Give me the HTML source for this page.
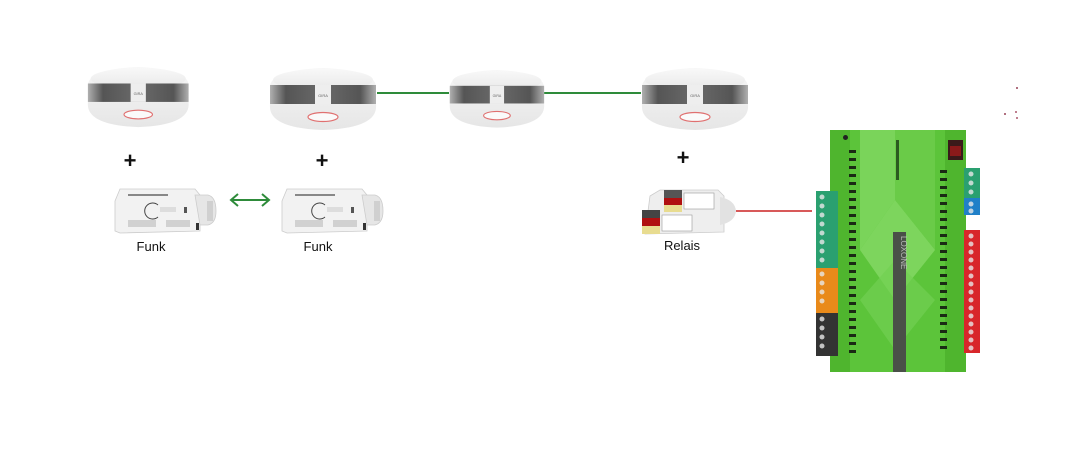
<!DOCTYPE html>
<html><head><meta charset="utf-8"><style>
html,body{margin:0;padding:0;background:#fff;}
body{width:1083px;height:476px;overflow:hidden;position:relative;font-family:"Liberation Sans","DejaVu Sans",sans-serif;}
svg{position:absolute;left:0;top:0}
</style></head><body>
<svg width="1083" height="476" viewBox="0 0 1083 476" xmlns="http://www.w3.org/2000/svg">
<defs>
 <linearGradient id="band" x1="0" x2="1" y1="0" y2="0">
  <stop offset="0" stop-color="#b0b0b0"/><stop offset="0.15" stop-color="#555"/><stop offset="0.5" stop-color="#6a6a6a"/><stop offset="0.85" stop-color="#555"/><stop offset="1" stop-color="#b0b0b0"/>
 </linearGradient>
 <linearGradient id="wt" x1="0" x2="0" y1="0" y2="1">
  <stop offset="0" stop-color="#f8f8f8"/><stop offset="1" stop-color="#e8e8e8"/>
 </linearGradient>
 <linearGradient id="wb" x1="0" x2="0" y1="0" y2="1">
  <stop offset="0" stop-color="#f7f7f7"/><stop offset="1" stop-color="#e6e6e6"/>
 </linearGradient>
 <g id="det">
  <path d="M2,18 Q4,2 55,0 Q106,2 108,18 L108,37 Q110,60 55,62 Q0,60 2,37 Z" fill="url(#wb)"/>
  <ellipse cx="55" cy="12" rx="50" ry="11" fill="url(#wt)"/>
  <rect x="2" y="17" width="106" height="19" fill="url(#band)"/>
  <rect x="47" y="17" width="16" height="19" fill="#eee"/>
  <text x="55" y="29" font-size="4" fill="#666" text-anchor="middle">GIRA</text>
  <ellipse cx="55" cy="49" rx="15" ry="4.5" fill="#fafafa" stroke="#e07070" stroke-width="1.2"/>
 </g>
 <g id="funk">
  <path d="M5,14 L10,2 L85,2 L90,8 L90,44 L10,46 L5,44 Z" fill="#f2f2f2" stroke="#ccc" stroke-width="0.8"/>
  <path d="M85,8 L98,8 Q106,10 106,24 Q106,36 98,38 L90,38 Z" fill="#e6e6e6" stroke="#ccc" stroke-width="0.8"/>
  <rect x="97" y="14" width="6" height="20" fill="#d0d0d0"/>
  <rect x="18" y="7" width="40" height="2" fill="#888"/>
  <path d="M48,18 A8,8 0 1,0 48,30" fill="none" stroke="#444" stroke-width="1"/>
  <rect x="50" y="20" width="16" height="5" fill="#ddd"/>
  <rect x="74" y="20" width="3" height="6" fill="#555"/>
  <rect x="18" y="33" width="28" height="7" fill="#bbb" opacity="0.6"/>
  <rect x="56" y="33" width="24" height="7" fill="#bbb" opacity="0.6"/>
  <rect x="86" y="36" width="3" height="7" fill="#333"/>
 </g>
</defs>

<line x1="377" y1="93" x2="449" y2="93" stroke="#2e8b3a" stroke-width="2"/>
<line x1="544" y1="93" x2="641" y2="93" stroke="#2e8b3a" stroke-width="2"/>

<use href="#det" transform="translate(86,67) scale(0.95,0.97)"/>
<use href="#det" transform="translate(268,68) scale(1,1)"/>
<use href="#det" transform="translate(448,70) scale(0.89,0.93)"/>
<use href="#det" transform="translate(640,68) scale(1,1)"/>

<text x="130" y="168" font-size="22" font-weight="bold" text-anchor="middle" fill="#111">+</text>
<text x="322" y="168" font-size="22" font-weight="bold" text-anchor="middle" fill="#111">+</text>
<text x="683" y="165" font-size="22" font-weight="bold" text-anchor="middle" fill="#111">+</text>

<use href="#funk" transform="translate(110,187)"/>
<use href="#funk" transform="translate(277,187)"/>

<line x1="232" y1="200" x2="268" y2="200" stroke="#2e8b3a" stroke-width="2"/>
<path d="M238,194 L231,200 L238,206" fill="none" stroke="#2e8b3a" stroke-width="2"/>
<path d="M262,194 L269,200 L262,206" fill="none" stroke="#2e8b3a" stroke-width="2"/>

<path d="M650,196 L660,190 L718,190 L724,196 L724,232 L645,234 Z" fill="#eee" stroke="#ccc" stroke-width="0.8"/>
<path d="M720,197 Q735,200 736,211 Q735,222 720,225 Z" fill="#e2e2e2"/>
<rect x="664" y="190" width="18" height="22" fill="#555"/>
<rect x="664" y="198" width="18" height="7" fill="#b01010"/>
<rect x="664" y="205" width="18" height="7" fill="#e8dc90"/>
<rect x="642" y="210" width="18" height="24" fill="#444"/>
<rect x="642" y="218" width="18" height="8" fill="#b01010"/>
<rect x="642" y="226" width="18" height="8" fill="#e8dc90"/>
<rect x="684" y="193" width="30" height="16" fill="#fff" stroke="#999" stroke-width="0.6"/>
<rect x="662" y="215" width="30" height="16" fill="#fff" stroke="#999" stroke-width="0.6"/>
<line x1="736" y1="211" x2="812" y2="211" stroke="#cc2222" stroke-width="1.5"/>

<text x="151" y="251" font-size="13" text-anchor="middle" fill="#111">Funk</text>
<text x="318" y="251" font-size="13" text-anchor="middle" fill="#111">Funk</text>
<text x="682" y="250" font-size="13" text-anchor="middle" fill="#111">Relais</text>

<rect x="830" y="130" width="136" height="242" fill="#5cc43a"/>
<rect x="830" y="130" width="20" height="242" fill="#4fb52e"/>
<rect x="945" y="130" width="21" height="242" fill="#4fb52e"/>
<polygon points="860,130 895,130 895,200 860,250" fill="#7ad45a"/>
<polygon points="895,130 935,130 935,250 895,200" fill="#6acb48"/>
<polygon points="860,250 895,200 935,250 895,300" fill="#8bdd6c" opacity="0.7"/>
<polygon points="860,300 895,260 935,300 895,350" fill="#72d052" opacity="0.7"/>
<rect x="896" y="140" width="3" height="40" fill="#2c5a20"/>
<rect x="893" y="232" width="13" height="140" fill="#4a5048"/>
<text transform="translate(901,236) rotate(90)" font-size="8" fill="#bbb">LOXONE</text>
<rect x="843" y="135" width="5" height="5" rx="2.5" fill="#222"/>
<rect x="948" y="140" width="15" height="20" fill="#3a1a1a"/>
<rect x="950" y="146" width="11" height="10" fill="#8a1a1a"/>
<g fill="#1a2a14">
<rect x="849" y="150" width="7" height="3"/><rect x="849" y="158" width="7" height="3"/><rect x="849" y="166" width="7" height="3"/><rect x="849" y="174" width="7" height="3"/><rect x="849" y="182" width="7" height="3"/><rect x="849" y="190" width="7" height="3"/><rect x="849" y="198" width="7" height="3"/><rect x="849" y="206" width="7" height="3"/><rect x="849" y="214" width="7" height="3"/><rect x="849" y="222" width="7" height="3"/><rect x="849" y="230" width="7" height="3"/><rect x="849" y="238" width="7" height="3"/><rect x="849" y="246" width="7" height="3"/><rect x="849" y="254" width="7" height="3"/><rect x="849" y="262" width="7" height="3"/><rect x="849" y="270" width="7" height="3"/><rect x="849" y="278" width="7" height="3"/><rect x="849" y="286" width="7" height="3"/><rect x="849" y="294" width="7" height="3"/><rect x="849" y="302" width="7" height="3"/><rect x="849" y="310" width="7" height="3"/><rect x="849" y="318" width="7" height="3"/><rect x="849" y="326" width="7" height="3"/><rect x="849" y="334" width="7" height="3"/><rect x="849" y="342" width="7" height="3"/><rect x="849" y="350" width="7" height="3"/>
<rect x="940" y="170" width="7" height="3"/><rect x="940" y="178" width="7" height="3"/><rect x="940" y="186" width="7" height="3"/><rect x="940" y="194" width="7" height="3"/><rect x="940" y="202" width="7" height="3"/><rect x="940" y="210" width="7" height="3"/><rect x="940" y="218" width="7" height="3"/><rect x="940" y="226" width="7" height="3"/><rect x="940" y="234" width="7" height="3"/><rect x="940" y="242" width="7" height="3"/><rect x="940" y="250" width="7" height="3"/><rect x="940" y="258" width="7" height="3"/><rect x="940" y="266" width="7" height="3"/><rect x="940" y="274" width="7" height="3"/><rect x="940" y="282" width="7" height="3"/><rect x="940" y="290" width="7" height="3"/><rect x="940" y="298" width="7" height="3"/><rect x="940" y="306" width="7" height="3"/><rect x="940" y="314" width="7" height="3"/><rect x="940" y="322" width="7" height="3"/><rect x="940" y="330" width="7" height="3"/><rect x="940" y="338" width="7" height="3"/><rect x="940" y="346" width="7" height="3"/>
</g>
<rect x="816" y="191" width="22" height="77" fill="#2aa070"/>
<rect x="816" y="268" width="22" height="45" fill="#e98a1a"/>
<rect x="816" y="313" width="22" height="43" fill="#333"/>
<rect x="964" y="168" width="16" height="30" fill="#2aa070"/>
<rect x="964" y="198" width="16" height="17" fill="#2080c8"/>
<rect x="964" y="230" width="16" height="123" fill="#d8262a"/>
<g fill="#e8e8e8" opacity="0.8">
<circle cx="822" cy="197" r="2.5"/><circle cx="822" cy="206" r="2.5"/><circle cx="822" cy="215" r="2.5"/><circle cx="822" cy="224" r="2.5"/><circle cx="822" cy="233" r="2.5"/><circle cx="822" cy="242" r="2.5"/><circle cx="822" cy="251" r="2.5"/><circle cx="822" cy="260" r="2.5"/><circle cx="822" cy="274" r="2.5"/><circle cx="822" cy="283" r="2.5"/><circle cx="822" cy="292" r="2.5"/><circle cx="822" cy="301" r="2.5"/><circle cx="822" cy="319" r="2.5"/><circle cx="822" cy="328" r="2.5"/><circle cx="822" cy="337" r="2.5"/><circle cx="822" cy="346" r="2.5"/>
<circle cx="971" cy="174" r="2.5"/><circle cx="971" cy="183" r="2.5"/><circle cx="971" cy="192" r="2.5"/><circle cx="971" cy="204" r="2.5"/><circle cx="971" cy="211" r="2.5"/>
<circle cx="971" cy="236" r="2.5"/><circle cx="971" cy="244" r="2.5"/><circle cx="971" cy="252" r="2.5"/><circle cx="971" cy="260" r="2.5"/><circle cx="971" cy="268" r="2.5"/><circle cx="971" cy="276" r="2.5"/><circle cx="971" cy="284" r="2.5"/><circle cx="971" cy="292" r="2.5"/><circle cx="971" cy="300" r="2.5"/><circle cx="971" cy="308" r="2.5"/><circle cx="971" cy="316" r="2.5"/><circle cx="971" cy="324" r="2.5"/><circle cx="971" cy="332" r="2.5"/><circle cx="971" cy="340" r="2.5"/><circle cx="971" cy="348" r="2.5"/>
</g>
<rect x="1016" y="87" width="2" height="2" fill="#b07080"/>
<rect x="1004" y="113" width="2" height="2" fill="#b07080"/>
<rect x="1015" y="111" width="2" height="2" fill="#c08090"/>
<rect x="1016" y="117" width="2" height="2" fill="#c08090"/>
</svg>
</body></html>
